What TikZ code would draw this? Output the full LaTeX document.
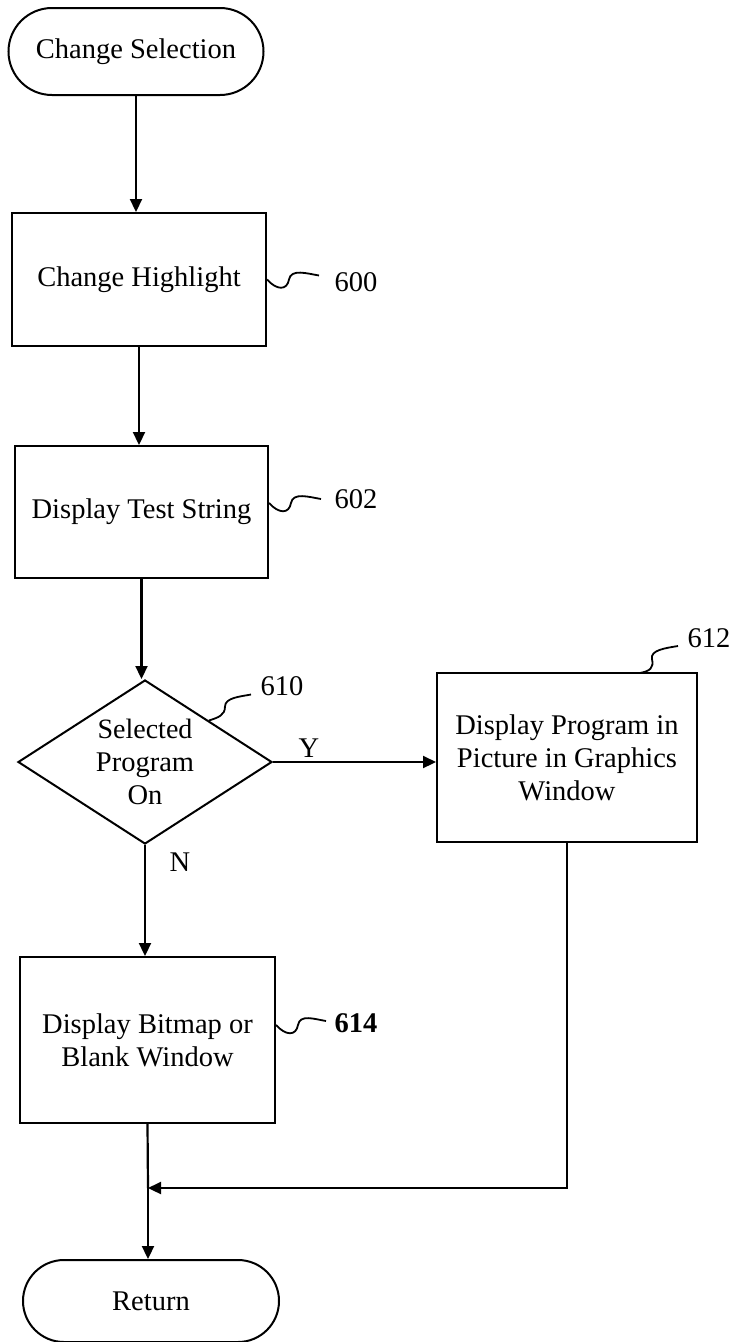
\documentclass[tikz,border=0pt]{standalone}
\usepackage{fontspec}
\setmainfont{Liberation Serif}
\usetikzlibrary{shapes.geometric,shapes.misc,arrows.meta}
\tikzset{
  box/.style={draw, line width=2pt, rectangle, inner sep=0pt, align=center},
  term/.style={draw, line width=2pt, rounded rectangle, inner sep=0pt, align=center},
  decision/.style={draw, line width=2pt, diamond, aspect=1.55, inner sep=0pt, align=center},
  flow/.style={line width=2.2pt, -{Triangle[length=13pt,width=12pt]}},
  plain/.style={line width=2.2pt},
  squig/.style={line width=1.8pt},
  lbl/.style={inner sep=0pt},
}
\begin{document}
\begin{tikzpicture}[x=1pt,y=-1pt,font=\fontsize{28.5}{33}\selectfont]
\useasboundingbox (0,0) rectangle (733,1342);
% nodes
\node[term, minimum width=255, minimum height=87] (cs) at (136,51.5) {Change Selection};
\node[box, minimum width=254, minimum height=133] (ch) at (139,279.5) {Change Highlight};
\node[box, minimum width=253, minimum height=132] (dts) at (141.5,512) {Display Test String};
\node[decision, minimum width=254, minimum height=164] (dec) at (145,762)
  {\fontsize{28}{25}\selectfont Selected\\Program\\On};
\node[box, minimum width=260, minimum height=169] (ps) at (567,757.5)
  {\fontsize{28.5}{33}\selectfont Display Program in\\Picture in Graphics\\Window};
\node[box, minimum width=255, minimum height=166] (bm) at (147.5,1040)
  {\fontsize{28.5}{31}\selectfont Display Bitmap or\\Blank Window};
\node[term, minimum width=256, minimum height=82] (ret) at (151,1301) {Return};
% reference labels
\node[lbl] (l600) at (356,282) {600};
\node[lbl] (l602) at (356,499) {602};
\node[lbl] (l610) at (282,686) {610};
\node[lbl] (l612) at (709,638) {612};
\node[lbl] (l614) at (356,1023) {\bfseries 614};
\node[lbl] (ly) at (309,748) {Y};
\node[lbl] (ln) at (180,862) {N};
\coordinate (join) at (148,1188);
% connectors
\draw[flow] (cs.south) -- (cs.south |- ch.north);
\draw[flow] (ch.south) -- (ch.south |- dts.north);
\draw[flow] (dts.south) -- (dts.south |- dec.north);
\draw[flow] (dec.east) -- (dec.east -| ps.west);
\draw[flow] (dec.south) -- (dec.south |- bm.north);
\draw[plain] (bm.south) -- (join);
\draw[flow] (join) -- (join |- ret.north);
\draw[flow] (ps.south) |- (join);
% squiggles
\draw[squig] (ch.east) .. controls +(10,11) and +(-2,11) .. ++(22,0)
  .. controls +(2,-11) and +(-12,-2) .. ++(30,-4);
\draw[squig] (dts.east) ++(0,-9) .. controls +(10,11) and +(-2,11) .. ++(22,0)
  .. controls +(2,-11) and +(-12,-2) .. ++(30,-4);
\draw[squig] (bm.east) ++(0,-15) .. controls +(10,11) and +(-2,11) .. ++(22,0)
  .. controls +(2,-11) and +(-12,-2) .. ++(28,-4);
\path (dec.north) -- (dec.east) coordinate[pos=0.5] (dne);
\draw[squig] (dne) .. controls +(9,-3) and +(0,9) .. ++(16,-14)
  .. controls +(0,-9) and +(-10,2) .. ++(26,-12);
\draw[squig] (640,673) .. controls +(10,-2) and +(2,9) .. ++(12,-14)
  .. controls +(-2,-9) and +(-12,2) .. ++(26,-13);
\end{tikzpicture}
\end{document}
